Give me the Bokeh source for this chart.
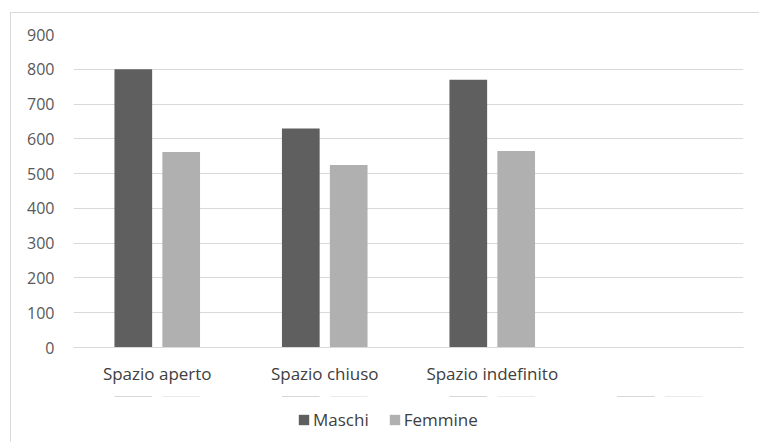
from bokeh.plotting import figure
from bokeh.layouts import column
from bokeh.models import ColumnDataSource, FactorRange, Range1d, Legend, LegendItem, FixedTicker
from bokeh.transform import dodge
from bokeh.embed import file_html
from bokeh.resources import INLINE

categories = ["Spazio aperto", "Spazio chiuso", "Spazio indefinito", " "]
maschi = [800, 630, 770, 0]
femmine = [562, 525, 565, 0]
y_ticks = [0, 100, 200, 300, 400, 500, 600, 700, 800, 900]
series_names = ["Maschi", "Femmine"]
series_colors = ["#5f5f5f", "#b0b0b0"]

source = ColumnDataSource(data=dict(cat=categories, maschi=maschi, femmine=femmine))

FONT = "Open Sans"

p = figure(
    x_range=FactorRange(*categories, range_padding=0),
    y_range=Range1d(0, 900),
    frame_width=669, frame_height=312,
    output_backend="svg", toolbar_location=None,
    min_border_left=62, min_border_top=21, min_border_right=20, min_border_bottom=50,
    background_fill_color="white", border_fill_color="white",
)
p.margin = (12, 0, 0, 10)
p.styles = {"border-top": "1px solid #d9d9d9", "border-left": "1px solid #d9d9d9"}
p.outline_line_color = None

p.vbar(x=dodge("cat", -0.143, range=p.x_range), top="maschi", width=0.225,
       source=source, fill_color=series_colors[0], line_color=None)
p.vbar(x=dodge("cat", 0.143, range=p.x_range), top="femmine", width=0.225,
       source=source, fill_color=series_colors[1], line_color=None)

p.xgrid.grid_line_color = None
p.ygrid.grid_line_color = "#d9d9d9"
p.ygrid.grid_line_width = 1
p.yaxis.ticker = FixedTicker(ticks=y_ticks)

p.yaxis.axis_line_color = None
p.yaxis.major_tick_line_color = None
p.yaxis.minor_tick_line_color = None
p.yaxis.major_tick_out = 0
p.yaxis.minor_tick_out = 0
p.yaxis.major_label_text_font = FONT
p.yaxis.major_label_text_font_size = "16px"
p.yaxis.major_label_text_color = "#595959"
p.yaxis.major_label_standoff = 19

p.xaxis.axis_line_color = "#d9d9d9"
p.xaxis.major_tick_line_color = None
p.xaxis.minor_tick_line_color = None
p.xaxis.major_tick_out = 0
p.xaxis.minor_tick_out = 0
p.xaxis.major_label_text_font = FONT
p.xaxis.major_label_text_font_size = "17px"
p.xaxis.major_label_text_color = "#404040"
p.xaxis.major_label_standoff = 14

# Legend strip below the chart (same frame geometry so the column keeps alignment)
p2 = figure(
    x_range=FactorRange(*categories, range_padding=0), y_range=Range1d(-2, -1),
    frame_width=669, frame_height=46,
    x_axis_location=None, y_axis_location=None,
    output_backend="svg", toolbar_location=None,
    min_border_left=62, min_border_top=0, min_border_right=20, min_border_bottom=0,
    background_fill_color="white", border_fill_color="white",
)
p2.margin = (0, 0, 0, 10)
p2.styles = {"border-left": "1px solid #d9d9d9"}
p2.outline_line_color = None
p2.grid.visible = False

# same series, drawn outside the visible range: only their legend swatches show
l1 = p2.vbar(x=dodge("cat", -0.143, range=p2.x_range), top="maschi", width=0.225,
             source=source, fill_color=series_colors[0], line_color=None)
l2 = p2.vbar(x=dodge("cat", 0.143, range=p2.x_range), top="femmine", width=0.225,
             source=source, fill_color=series_colors[1], line_color=None)

legend = Legend(
    items=[LegendItem(label=series_names[0], renderers=[l1]),
           LegendItem(label=series_names[1], renderers=[l2])],
    orientation="horizontal", location=(224, 11),
    label_text_font=FONT, label_text_font_size="17px", label_text_color="#404040",
    glyph_width=13, glyph_height=13, spacing=19, label_standoff=3,
    border_line_color=None, background_fill_alpha=0, padding=0, margin=0,
)
p2.add_layout(legend, "center")

layout = column(p, p2, spacing=0)
open("out.html", "w").write(file_html(layout, INLINE))
